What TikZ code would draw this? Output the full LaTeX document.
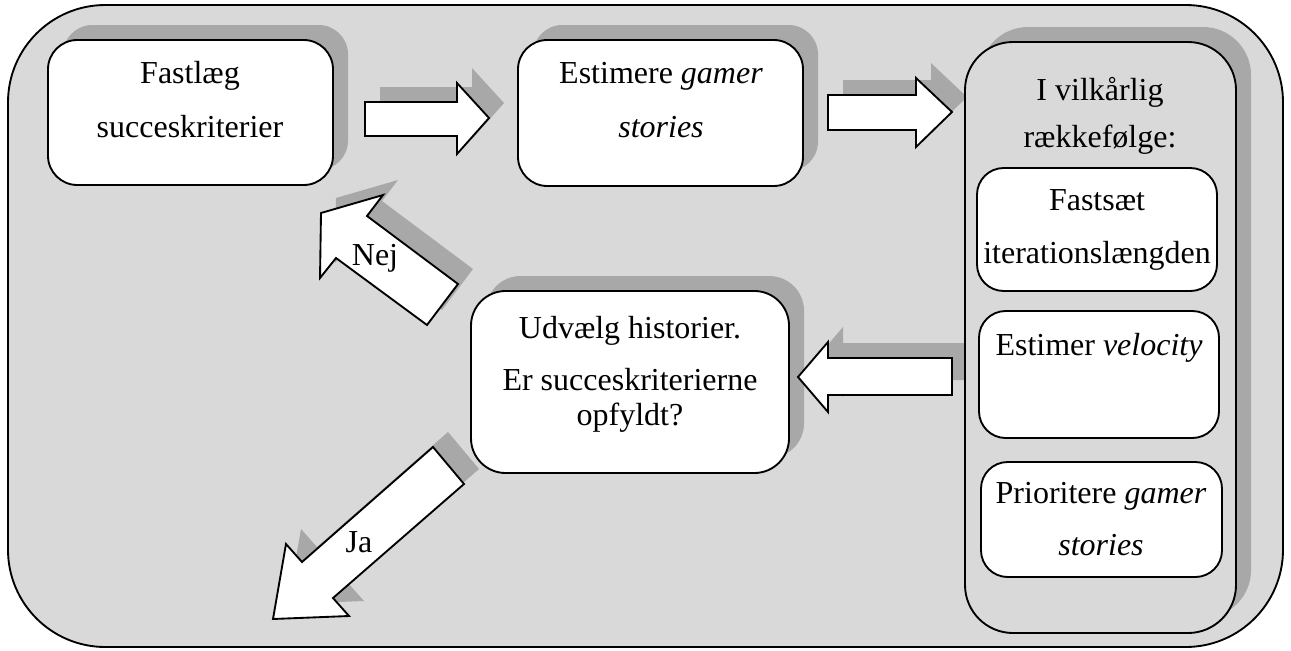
\documentclass[tikz,border=0pt]{standalone}
\usepackage{fontspec}
\setmainfont{Liberation Serif}
\usetikzlibrary{fit}
\definecolor{panel}{HTML}{D9D9D9}
\definecolor{shd}{HTML}{A8A8A8}

\begin{document}
\begin{tikzpicture}[x=0.75pt,y=-0.75pt,
  txt/.style={anchor=base, inner sep=0pt, font=\fontsize{24}{29}\selectfont},
  frame/.style={draw=black, line width=1.4pt},
  card/.style={frame, fill=white, inner sep=0pt, rounded corners=#1},
  cardshadow/.style={fill=shd, inner sep=0pt, rounded corners=#1},
  group/.style={frame, fill=panel, inner sep=0pt, rounded corners=#1},
  blockarrow/.style={frame, fill=white, line join=miter},
  arrowshadow/.style={fill=shd, shift={(15,-15)}},
]
\useasboundingbox (0,0) rectangle (1291,650);

% background panel
\node[group=73pt, fit={(8,5) (1283,647)}] (panel) {};

% shadows of the boxes
\node[cardshadow=22pt, fit={(63,25) (348,170)}] (s1) {};
\node[cardshadow=22pt, fit={(533,25) (818,171)}] (s2) {};
\node[cardshadow=36pt, fit={(980,27) (1251,618)}] (s3) {};
\node[cardshadow=26pt, fit={(486,276) (804,458)}] (s4) {};

% shadows of the block arrows
\fill[arrowshadow] (365,102) -- (457,102) -- (457,83) -- (489,118) -- (457,154) -- (457,136) -- (365,136) -- cycle;
\fill[arrowshadow] (828,95) -- (916,95) -- (916,78) -- (952,112) -- (916,147) -- (916,130) -- (828,130) -- cycle;
\fill[arrowshadow] (952,358) -- (828,358) -- (828,342) -- (798,377) -- (828,412) -- (828,395) -- (952,395) -- cycle;
\fill[arrowshadow] (321,213) -- (383,195) -- (367,216) -- (458,284) -- (427,325) -- (336,258) -- (320,278) -- cycle;
\fill[arrowshadow] (433,447) -- (464,484) -- (333,598) -- (349,616) -- (273,619) -- (286,544) -- (302,562) -- cycle;

% group box with its three steps
\node[group=36pt, fit={(965,42) (1236,633)}] (order) {};
\node[card=20pt, fit={(977,168) (1217,291)}] (iter) {};
\node[card=20pt, fit={(979,311) (1219,438)}] (vel) {};
\node[card=20pt, fit={(981,462) (1222,577)}] (prio) {};

% block arrows
\draw[blockarrow] (365,102) -- (457,102) -- (457,83) -- (489,118) -- (457,154) -- (457,136) -- (365,136) -- cycle;
\draw[blockarrow] (828,95) -- (916,95) -- (916,78) -- (952,112) -- (916,147) -- (916,130) -- (828,130) -- cycle;
\draw[blockarrow] (952,358) -- (828,358) -- (828,342) -- (798,377) -- (828,412) -- (828,395) -- (952,395) -- cycle;
\draw[blockarrow] (321,213) -- (383,195) -- (367,216) -- (458,284) -- (427,325) -- (336,258) -- (320,278) -- cycle;
\draw[blockarrow] (433,447) -- (464,484) -- (333,598) -- (349,616) -- (273,619) -- (286,544) -- (302,562) -- cycle;

% main boxes
\node[card=22pt, fit={(48,40) (333,185)}] (goal) {};
\node[card=22pt, fit={(518,40) (803,186)}] (est) {};
\node[card=26pt, fit={(471,291) (789,473)}] (sel) {};

% texts
\node[txt] (goal1) at (190,83) {Fastlæg};
\node[txt] (goal2) at (190,137) {succeskriterier};
\node[txt] (est1) at (661,83) {Estimere \textit{gamer}};
\node[txt] (est2) at (661,137) {\textit{stories}};
\node[txt] (ord1) at (1100,100) {I vilkårlig};
\node[txt] (ord2) at (1100,147) {rækkefølge:};
\node[txt] (iter1) at (1097,210) {Fastsæt};
\node[txt] (iter2) at (1097,263) {iterationslængden};
\node[txt] (vel1) at (1099,355) {Estimer \textit{velocity}};
\node[txt] (prio1) at (1101,503) {Prioritere \textit{gamer}};
\node[txt] (prio2) at (1101,555) {\textit{stories}};
\node[txt] (sel1) at (630,338) {Udvælg historier.};
\node[txt] (sel2) at (630,390) {Er succeskriterierne};
\node[txt] (sel3) at (630,425) {opfyldt?};
\node[txt] (no) at (375,265) {Nej};
\node[txt] (yes) at (359,552) {Ja};
\end{tikzpicture}
\end{document}
